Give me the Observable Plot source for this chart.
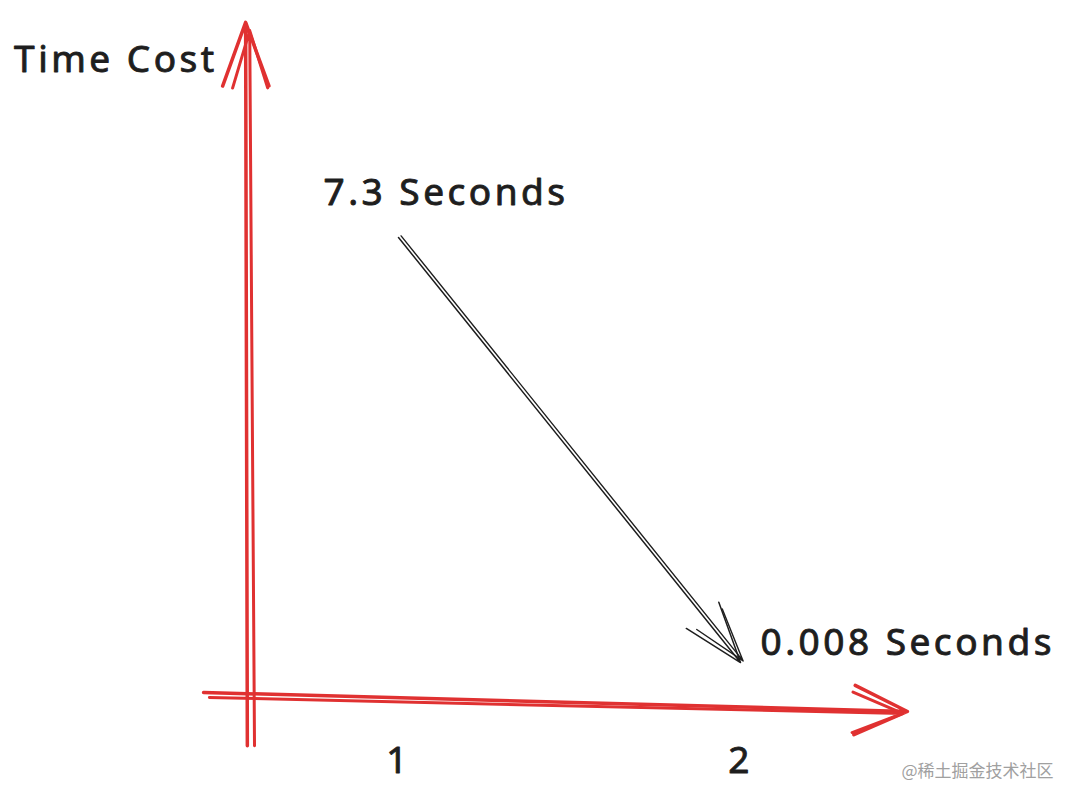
<!DOCTYPE html>
<html><head><meta charset="utf-8">
<script src="https://cdn.jsdelivr.net/npm/d3@7"></script>
<script src="https://cdn.jsdelivr.net/npm/@observablehq/plot@0.6"></script>
<style>html,body{margin:0;padding:0;background:#fff;overflow:hidden}</style>
</head><body><div id="chart"></div>
<script>
// ---- data ----
const runs = ["1", "2"];                       // x tick labels (run)
const runX = [1, 2];                           // x position of each run
const seconds = [7.3, 0.008];                  // time cost per run
const secondLabels = ["7.3 Seconds", "0.008 Seconds"];
const yTitle = "Time Cost";
const watermark = "@稀土掘金技术社区";

const rows = runs.map((r, i) => ({run: r, x: runX[i], t: seconds[i], label: secondLabels[i]}));

// ---- sketch-axis layout (data units) ----
const yAxisStrokes = [
  {x1: 0.558, y1: -1.42, x2: 0.553, y2: 10.99},
  {x1: 0.579, y1: -1.42, x2: 0.565, y2: 10.85}
];
const xAxisStrokes = [
  {x1: 0.430, y1: -0.506, x2: 2.488, y2: -0.832},
  {x1: 0.447, y1: -0.592, x2: 2.474, y2: -0.866}
];
const tickRowY = -0.6;

const RED = "#e03131";
const INK = "#1e1e1e";
const FONT = "'Noto Sans', sans-serif";
const txt = {fontSize: 37, fill: INK, stroke: INK, strokeWidth: 0.9};

const plot = Plot.plot({
  width: 1076,
  height: 809,
  margin: 0,
  x: {domain: [0, 3], range: [56, 1082]},
  y: {domain: [0, 7.3], range: [662.5, 237]},
  axis: null,
  style: {fontFamily: FONT, background: "#fff", overflow: "visible"},
  marks: [
    // red y axis (two sketch strokes)
    Plot.arrow(yAxisStrokes.slice(0, 1), {x1: "x1", y1: "y1", x2: "x2", y2: "y2", stroke: RED, strokeWidth: 3.5, headAngle: 40, headLength: 29, strokeLinecap: "round", strokeLinejoin: "round"}),
    Plot.arrow(yAxisStrokes.slice(1), {x1: "x1", y1: "y1", x2: "x2", y2: "y2", stroke: RED, strokeWidth: 3, headAngle: 34, headLength: 30, strokeLinecap: "round", strokeLinejoin: "round"}),
    // red x axis
    Plot.arrow(xAxisStrokes.slice(0, 1), {x1: "x1", y1: "y1", x2: "x2", y2: "y2", stroke: RED, strokeWidth: 3.5, headAngle: 50, headLength: 25, strokeLinecap: "round", strokeLinejoin: "round"}),
    Plot.arrow(xAxisStrokes.slice(1), {x1: "x1", y1: "y1", x2: "x2", y2: "y2", stroke: RED, strokeWidth: 3, headAngle: 44, headLength: 27, strokeLinecap: "round", strokeLinejoin: "round"}),
    // black arrow from run 1 to run 2
    Plot.arrow([rows], {x1: d => d[0].x, y1: d => d[0].t, x2: d => d[1].x, y2: d => d[1].t, stroke: INK, strokeWidth: 1.5, headAngle: 38, headLength: 64, strokeLinecap: "round"}),
    Plot.arrow([rows], {x1: d => d[0].x, y1: d => d[0].t, x2: d => d[1].x, y2: d => d[1].t, stroke: INK, strokeWidth: 1.4, headAngle: 34, headLength: 60, dx: 2.6, dy: -1.6, strokeLinecap: "round"}),
    // value labels
    Plot.text(rows.slice(0, 1), {x: "x", y: "t", text: "label", textAnchor: "start", dx: -75, dy: -44, ...txt}),
    Plot.text(rows.slice(1), {x: "x", y: "t", text: "label", textAnchor: "start", dx: 20, dy: -19, ...txt}),
    // tick labels
    Plot.text(rows, {x: "x", y: () => tickRowY, text: "run", dy: 63, ...txt}),
    // y title
    Plot.text([yTitle], {x: () => yAxisStrokes[0].x2, y: () => yAxisStrokes[0].y2, text: d => d, textAnchor: "end", dx: -28, dy: 38, ...txt}),
    // watermark
    Plot.text([watermark], {frameAnchor: "bottom-right", text: d => d, textAnchor: "end", dx: -23, dy: -33, fontSize: 17, fill: "#a0a0a0", fontFamily: "'Noto Sans CJK SC', sans-serif"})
  ]
});
document.getElementById("chart").appendChild(plot);
d3.select(plot).selectAll("text").each(function() {
  const t = this.textContent;
  if (t !== watermark) this.setAttribute("letter-spacing", "3.5");
});
</script>
</body></html>
